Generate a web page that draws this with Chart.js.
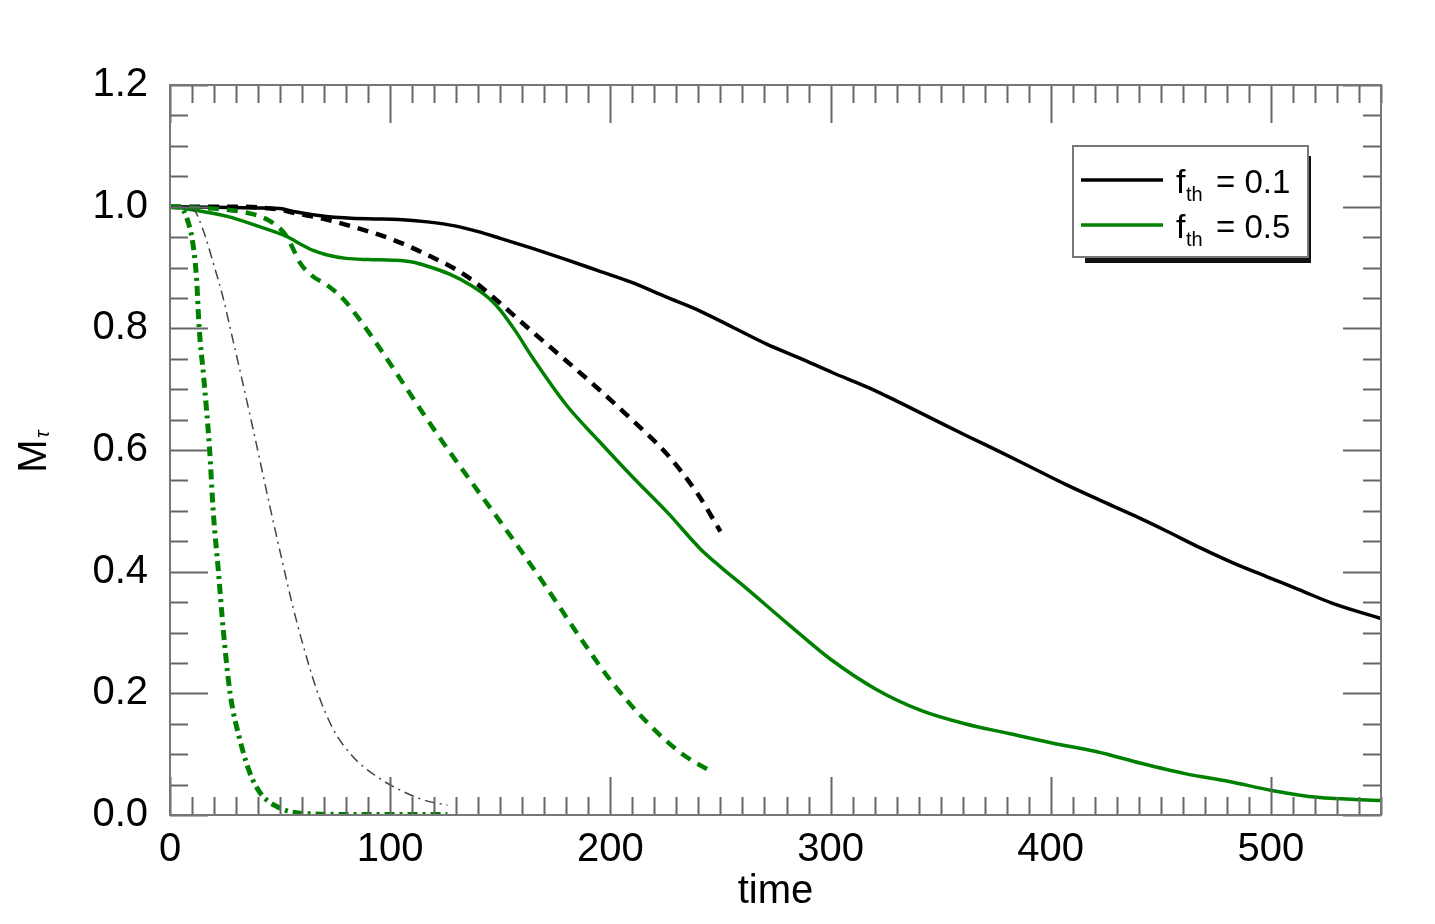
<!DOCTYPE html>
<html>
<head>
<meta charset="utf-8">
<script src="https://cdn.jsdelivr.net/npm/chart.js@4"></script>
<style>
  html, body { margin: 0; padding: 0; background: #fff; }
  canvas { display: block; }
</style>
</head>
<body>
<canvas id="mt" width="1435" height="924"></canvas>
<script>
// tick labels
const xTicks = [0, 100, 200, 300, 400, 500];
const yTicks = [0, 0.2, 0.4, 0.6, 0.8, 1.0, 1.2];

// f_th = 0.1, solid
const blackSolidT = [0, 20, 40, 50, 56, 71, 90, 104, 117, 130, 140, 150, 165, 180, 195, 210, 225, 241, 256, 271, 286, 301, 317, 332, 347, 362, 377, 392, 407, 422, 438, 453, 468, 483, 498, 513, 528, 550];
const blackSolidM = [1.0, 0.999, 0.998, 0.997, 0.992, 0.984, 0.98, 0.979, 0.975, 0.968, 0.959, 0.948, 0.931, 0.913, 0.894, 0.875, 0.852, 0.828, 0.801, 0.774, 0.751, 0.727, 0.703, 0.677, 0.65, 0.623, 0.597, 0.570, 0.543, 0.518, 0.492, 0.466, 0.439, 0.414, 0.392, 0.370, 0.348, 0.323];

// f_th = 0.1, dashed
const blackDashT = [0, 30, 50, 56, 71, 85, 101, 115, 135, 165, 195, 210, 226, 240, 250];
const blackDashM = [1.0, 1.0, 0.995, 0.99, 0.979, 0.965, 0.946, 0.924, 0.885, 0.793, 0.699, 0.649, 0.592, 0.526, 0.466];

// f_th = 0.1, thin dash-dot
const grayDotDashT = [0, 10.6, 15, 19.6, 24, 28, 31.5, 38, 45.5, 50.8, 55.3, 60, 66.7, 74, 83, 94, 104.5, 115, 126];
const grayDotDashM = [1.0, 0.995, 0.962, 0.908, 0.852, 0.79, 0.735, 0.63, 0.505, 0.42, 0.35, 0.285, 0.205, 0.142, 0.096, 0.063, 0.041, 0.025, 0.016];

// f_th = 0.5, solid
const greenSolidT = [0, 10, 26, 40, 53, 60, 65, 71, 80, 90, 101, 110, 117, 127, 137, 145, 150, 157, 165, 180, 195, 210, 226, 241, 250, 261, 281, 300, 321, 341, 361, 381, 401, 421, 441, 461, 481, 501, 521, 550];
const greenSolidM = [1.0, 0.995, 0.984, 0.968, 0.951, 0.937, 0.928, 0.921, 0.915, 0.913, 0.912, 0.909, 0.902, 0.889, 0.870, 0.849, 0.830, 0.795, 0.750, 0.674, 0.614, 0.556, 0.497, 0.437, 0.408, 0.375, 0.313, 0.256, 0.206, 0.172, 0.150, 0.134, 0.118, 0.104, 0.085, 0.068, 0.055, 0.040, 0.029, 0.024];

// f_th = 0.5, dashed
const greenDashT = [0, 15, 26, 35, 41, 48, 53, 56, 59, 65, 71, 79, 86, 94, 104, 115, 127, 142, 156, 171, 186, 201, 217, 232, 247];
const greenDashM = [1.0, 0.998, 0.995, 0.99, 0.984, 0.97, 0.951, 0.93, 0.908, 0.885, 0.872, 0.847, 0.815, 0.774, 0.72, 0.66, 0.597, 0.522, 0.452, 0.374, 0.293, 0.217, 0.151, 0.102, 0.069];

// f_th = 0.5, thick dash-dot
const greenDotDashT = [0, 4.5, 8.3, 10.6, 12.1, 13.2, 15.3, 17.9, 19.7, 22, 24.2, 27.3, 31.8, 36.4, 41, 48.5, 59, 80, 100, 126];
const greenDotDashM = [1.0, 0.999, 0.974, 0.934, 0.88, 0.803, 0.72, 0.605, 0.496, 0.4, 0.304, 0.2, 0.123, 0.068, 0.036, 0.014, 0.003, 0.001, 0.001, 0.001];

const GREEN = '#008000';
const FONT = '"Liberation Sans", Arial, Helvetica, sans-serif';

const pts = (ts, ms) => ts.map((t, i) => ({ x: t, y: ms[i] }));

const line = (label, ts, ms, color, width, dash) => ({
    label: label,
    data: pts(ts, ms),
    borderColor: color,
    borderWidth: width,
    borderDash: dash,
    pointRadius: 0,
    fill: false,
    cubicInterpolationMode: 'monotone',
});

// inward ticks on all four sides, frame, y title and boxed legend
const idlFrame = {
    id: 'idlFrame',
    afterDraw(chart) {
        const { ctx, chartArea: a, scales } = chart;
        const xs = scales.x, ys = scales.y;
        ctx.save();
        ctx.strokeStyle = '#666';
        ctx.lineWidth = 2;
        ctx.beginPath();
        for (let t = 0; t <= 550; t += 10) {
            const px = Math.round(xs.getPixelForValue(t)) + 0.5;
            const len = t % 100 === 0 ? 38 : 18;
            ctx.moveTo(px, a.bottom); ctx.lineTo(px, a.bottom - len);
            ctx.moveTo(px, a.top); ctx.lineTo(px, a.top + len);
        }
        for (let k = 0; k <= 24; k++) {
            const py = Math.round(ys.getPixelForValue(k * 0.05)) + 0.5;
            const len = k % 4 === 0 ? 38 : 18;
            ctx.moveTo(a.left, py); ctx.lineTo(a.left + len, py);
            ctx.moveTo(a.right, py); ctx.lineTo(a.right - len, py);
        }
        ctx.stroke();
        ctx.strokeStyle = '#777';
        ctx.strokeRect(a.left, a.top, a.right - a.left, a.bottom - a.top);

        // y title M_tau
        ctx.fillStyle = '#000';
        ctx.translate(46, 456);
        ctx.rotate(-Math.PI / 2);
        ctx.font = '40px ' + FONT;
        ctx.textAlign = 'center';
        ctx.textBaseline = 'alphabetic';
        ctx.fillText('M', 0, 0);
        ctx.font = 'italic 20px ' + FONT;
        ctx.textAlign = 'left';
        ctx.fillText('τ', 18, 3);
        ctx.restore();

        // legend
        ctx.save();
        const bx = 1073, by = 146, bw = 235, bh = 111;
        ctx.fillStyle = '#111';
        ctx.fillRect(bx + 12, by + 10, bw - 9, bh - 4);
        ctx.fillStyle = '#fff';
        ctx.fillRect(bx, by, bw, bh);
        ctx.strokeStyle = '#777';
        ctx.lineWidth = 2;
        ctx.strokeRect(bx, by, bw, bh);
        const rows = [
            { color: '#000', val: '0.1' },
            { color: GREEN, val: '0.5' },
        ];
        rows.forEach((r, i) => {
            const ly = 180 + i * 45;
            ctx.strokeStyle = r.color;
            ctx.lineWidth = 3.5;
            ctx.beginPath();
            ctx.moveTo(1081, ly); ctx.lineTo(1163, ly);
            ctx.stroke();
            ctx.fillStyle = '#000';
            ctx.textBaseline = 'alphabetic';
            ctx.font = '34px ' + FONT;
            ctx.fillText('f', 1176, ly + 13);
            ctx.font = '20px ' + FONT;
            ctx.fillText('th', 1186, ly + 21);
            ctx.font = '33px ' + FONT;
            ctx.fillText('= ' + r.val, 1216, ly + 13);
        });
        ctx.restore();
    }
};

new Chart(document.getElementById('mt'), {
    type: 'line',
    data: {
        datasets: [
            line('f_th = 0.1 thin', grayDotDashT, grayDotDashM, '#444', 1.5, [10, 5, 2, 5]),
            line('f_th = 0.5 dash-dot', greenDotDashT, greenDotDashM, GREEN, 5, [10, 5, 3, 5]),
            line('f_th = 0.5 dashed', greenDashT, greenDashM, GREEN, 4.5, [11, 8]),
            line('f_th = 0.1 dashed', blackDashT, blackDashM, '#000', 4.5, [11, 8]),
            line('f_th = 0.5', greenSolidT, greenSolidM, GREEN, 3.5, []),
            line('f_th = 0.1', blackSolidT, blackSolidM, '#000', 3.5, []),
        ],
    },
    options: {
        responsive: false,
        animation: false,
        devicePixelRatio: 1,
        layout: { padding: { left: 0, right: 54, top: 85, bottom: 0 } },
        plugins: {
            legend: { display: false },
            tooltip: { enabled: false },
        },
        scales: {
            x: {
                type: 'linear',
                min: 0,
                max: 550,
                afterBuildTicks: s => { s.ticks = xTicks.map(v => ({ value: v })); },
                afterFit: s => { s.height = 109; },
                grid: { display: false, drawTicks: false },
                border: { display: false },
                ticks: {
                    autoSkip: false,
                    maxRotation: 0,
                    padding: 11,
                    color: '#000',
                    font: { family: FONT, size: 40 },
                    callback: v => String(v),
                },
                title: {
                    display: true,
                    text: 'time',
                    color: '#000',
                    font: { family: FONT, size: 40 },
                    padding: { top: 0, bottom: 8 },
                },
            },
            y: {
                type: 'linear',
                min: 0,
                max: 1.2,
                afterBuildTicks: s => { s.ticks = yTicks.map(v => ({ value: v })); },
                afterFit: s => { s.width = 170; },
                grid: { display: false, drawTicks: false },
                border: { display: false },
                ticks: {
                    autoSkip: false,
                    padding: 22,
                    color: '#000',
                    font: { family: FONT, size: 40 },
                    callback: v => Number(v).toFixed(1),
                },
            },
        },
    },
    plugins: [idlFrame],
});
</script>
</body>
</html>
